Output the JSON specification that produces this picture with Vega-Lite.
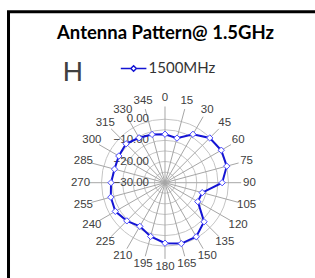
{
  "$schema": "https://vega.github.io/schema/vega-lite/v6.json",
  "width": 320,
  "height": 280,
  "autosize": {"type": "none"},
  "padding": {"left": 8.5, "top": 11.7, "right": 0, "bottom": 0},
  "background": "white",
  "config": {
    "view": {"stroke": "black", "strokeWidth": 3},
    "legend": {
      "orient": "none",
      "legendX": 54.3,
      "legendY": 47.8,
      "titleOrient": "left",
      "titleAnchor": "start",
      "titleFont": "Liberation Sans",
      "titleFontSize": 28,
      "titleFontWeight": "normal",
      "titleColor": "#404040",
      "titlePadding": 40.8,
      "titleBaseline": "top",
      "labelFont": "Lato",
      "labelFontSize": 15,
      "labelColor": "#333333",
      "labelOffset": 6,
      "symbolType": "M-1.6,0H-0.35M0.35,0H1.6M0,-0.35L0.35,0L0,0.35L-0.35,0Z",
      "symbolSize": 256,
      "symbolFillColor": "white",
      "symbolStrokeWidth": 1.5,
      "padding": 0
    }
  },
  "title": {
    "text": "Antenna Pattern@ 1.5GHz",
    "font": "Lato",
    "fontSize": 18.5,
    "fontWeight": "bold",
    "color": "black",
    "anchor": "middle",
    "frame": "group",
    "baseline": "alphabetic",
    "offset": 0,
    "dy": 46,
    "dx": -3
  },
  "datasets": {
    "pattern": [
      {"angle": 0, "dB": -7.1, "series": "1500MHz"},
      {"angle": 15, "dB": -8.2, "series": "1500MHz"},
      {"angle": 30, "dB": -3.6, "series": "1500MHz"},
      {"angle": 45, "dB": -0.1, "series": "1500MHz"},
      {"angle": 60, "dB": 0.7, "series": "1500MHz"},
      {"angle": 75, "dB": 0.2, "series": "1500MHz"},
      {"angle": 90, "dB": -3.0, "series": "1500MHz"},
      {"angle": 105, "dB": -11.8, "series": "1500MHz"},
      {"angle": 120, "dB": -12.1, "series": "1500MHz"},
      {"angle": 135, "dB": -3.9, "series": "1500MHz"},
      {"angle": 150, "dB": -0.5, "series": "1500MHz"},
      {"angle": 165, "dB": -0.2, "series": "1500MHz"},
      {"angle": 180, "dB": -1.4, "series": "1500MHz"},
      {"angle": 195, "dB": -3.7, "series": "1500MHz"},
      {"angle": 210, "dB": -6.2, "series": "1500MHz"},
      {"angle": 225, "dB": -4.5, "series": "1500MHz"},
      {"angle": 240, "dB": -2.9, "series": "1500MHz"},
      {"angle": 255, "dB": -3.5, "series": "1500MHz"},
      {"angle": 270, "dB": -4.5, "series": "1500MHz"},
      {"angle": 285, "dB": -5.3, "series": "1500MHz"},
      {"angle": 300, "dB": -4.8, "series": "1500MHz"},
      {"angle": 315, "dB": -4.0, "series": "1500MHz"},
      {"angle": 330, "dB": -5.5, "series": "1500MHz"},
      {"angle": 345, "dB": -6.4, "series": "1500MHz"}
    ],
    "rings": [
      {"dB": -25}, {"dB": -20}, {"dB": -15}, {"dB": -10}, {"dB": -5}, {"dB": 0}
    ],
    "valueLabels": [
      {"dB": 0}, {"dB": -10}, {"dB": -20}, {"dB": -30}
    ]
  },
  "layer": [
    {
      "data": {"name": "rings"},
      "transform": [
        {"calculate": "(datum.dB + 30) / 30", "as": "r"},
        {"calculate": "0", "as": "c"}
      ],
      "mark": {"type": "point", "shape": "circle", "filled": false, "color": "#c4c4c4", "strokeWidth": 1, "opacity": 1},
      "encoding": {
        "x": {"field": "c", "type": "quantitative", "scale": {"domain": [-2.4646, 2.5748], "nice": false, "zero": false}, "axis": null},
        "y": {"field": "c", "type": "quantitative", "scale": {"domain": [-1.7165, 2.6929], "nice": false, "zero": false}, "axis": null},
        "size": {"field": "r", "type": "quantitative", "scale": {"type": "pow", "exponent": 2, "domain": [0, 1], "range": [0, 16129]}, "legend": null}
      }
    },
    {
      "data": {"name": "pattern"},
      "transform": [
        {"calculate": "1.2 * sin(datum.angle * PI / 180)", "as": "sx"},
        {"calculate": "1.2 * cos(datum.angle * PI / 180)", "as": "sy"},
        {"calculate": "0", "as": "c"}
      ],
      "mark": {"type": "rule", "color": "#a6a6a6", "strokeWidth": 1},
      "encoding": {
        "x": {"field": "c", "type": "quantitative", "scale": {"domain": [-2.4646, 2.5748], "nice": false, "zero": false}, "axis": null},
        "y": {"field": "c", "type": "quantitative", "scale": {"domain": [-1.7165, 2.6929], "nice": false, "zero": false}, "axis": null},
        "x2": {"field": "sx"},
        "y2": {"field": "sy"}
      }
    },
    {
      "data": {"name": "pattern"},
      "transform": [
        {"calculate": "1.33 * sin(datum.angle * PI / 180)", "as": "lx"},
        {"calculate": "1.33 * cos(datum.angle * PI / 180)", "as": "ly"}
      ],
      "mark": {"type": "text", "font": "Liberation Sans", "fontSize": 11.5, "color": "#404040", "align": "center", "baseline": "middle"},
      "encoding": {
        "x": {"field": "lx", "type": "quantitative", "scale": {"domain": [-2.4646, 2.5748], "nice": false, "zero": false}, "axis": null},
        "y": {"field": "ly", "type": "quantitative", "scale": {"domain": [-1.7165, 2.6929], "nice": false, "zero": false}, "axis": null},
        "text": {"field": "angle", "type": "quantitative"}
      }
    },
    {
      "data": {"name": "valueLabels"},
      "transform": [
        {"calculate": "(datum.dB + 30) / 30", "as": "r"},
        {"calculate": "0", "as": "c"}
      ],
      "mark": {"type": "text", "font": "Liberation Sans", "fontSize": 11.5, "color": "#404040", "align": "right", "baseline": "middle", "dx": -16},
      "encoding": {
        "x": {"field": "c", "type": "quantitative", "scale": {"domain": [-2.4646, 2.5748], "nice": false, "zero": false}, "axis": null},
        "y": {"field": "r", "type": "quantitative", "scale": {"domain": [-1.7165, 2.6929], "nice": false, "zero": false}, "axis": null},
        "text": {"field": "dB", "type": "quantitative", "format": ".2f"}
      }
    },
    {
      "data": {"name": "pattern"},
      "transform": [
        {"calculate": "(datum.dB + 30) / 30", "as": "r"},
        {"calculate": "datum.r * sin(datum.angle * PI / 180)", "as": "px"},
        {"calculate": "datum.r * cos(datum.angle * PI / 180)", "as": "py"}
      ],
      "mark": {"type": "line", "interpolate": "linear-closed", "strokeWidth": 2},
      "encoding": {
        "x": {"field": "px", "type": "quantitative", "scale": {"domain": [-2.4646, 2.5748], "nice": false, "zero": false}, "axis": null},
        "y": {"field": "py", "type": "quantitative", "scale": {"domain": [-1.7165, 2.6929], "nice": false, "zero": false}, "axis": null},
        "order": {"field": "angle", "type": "quantitative"},
        "color": {"field": "series", "type": "nominal", "scale": {"range": ["#1414d4"]}, "legend": {"title": "H"}}
      }
    },
    {
      "data": {"name": "pattern"},
      "transform": [
        {"calculate": "(datum.dB + 30) / 30", "as": "r"},
        {"calculate": "datum.r * sin(datum.angle * PI / 180)", "as": "px"},
        {"calculate": "datum.r * cos(datum.angle * PI / 180)", "as": "py"}
      ],
      "mark": {"type": "point", "shape": "diamond", "filled": true, "fill": "white", "stroke": "#4a4aff", "strokeWidth": 1, "size": 40, "opacity": 1},
      "encoding": {
        "x": {"field": "px", "type": "quantitative", "scale": {"domain": [-2.4646, 2.5748], "nice": false, "zero": false}, "axis": null},
        "y": {"field": "py", "type": "quantitative", "scale": {"domain": [-1.7165, 2.6929], "nice": false, "zero": false}, "axis": null}
      }
    }
  ]
}
